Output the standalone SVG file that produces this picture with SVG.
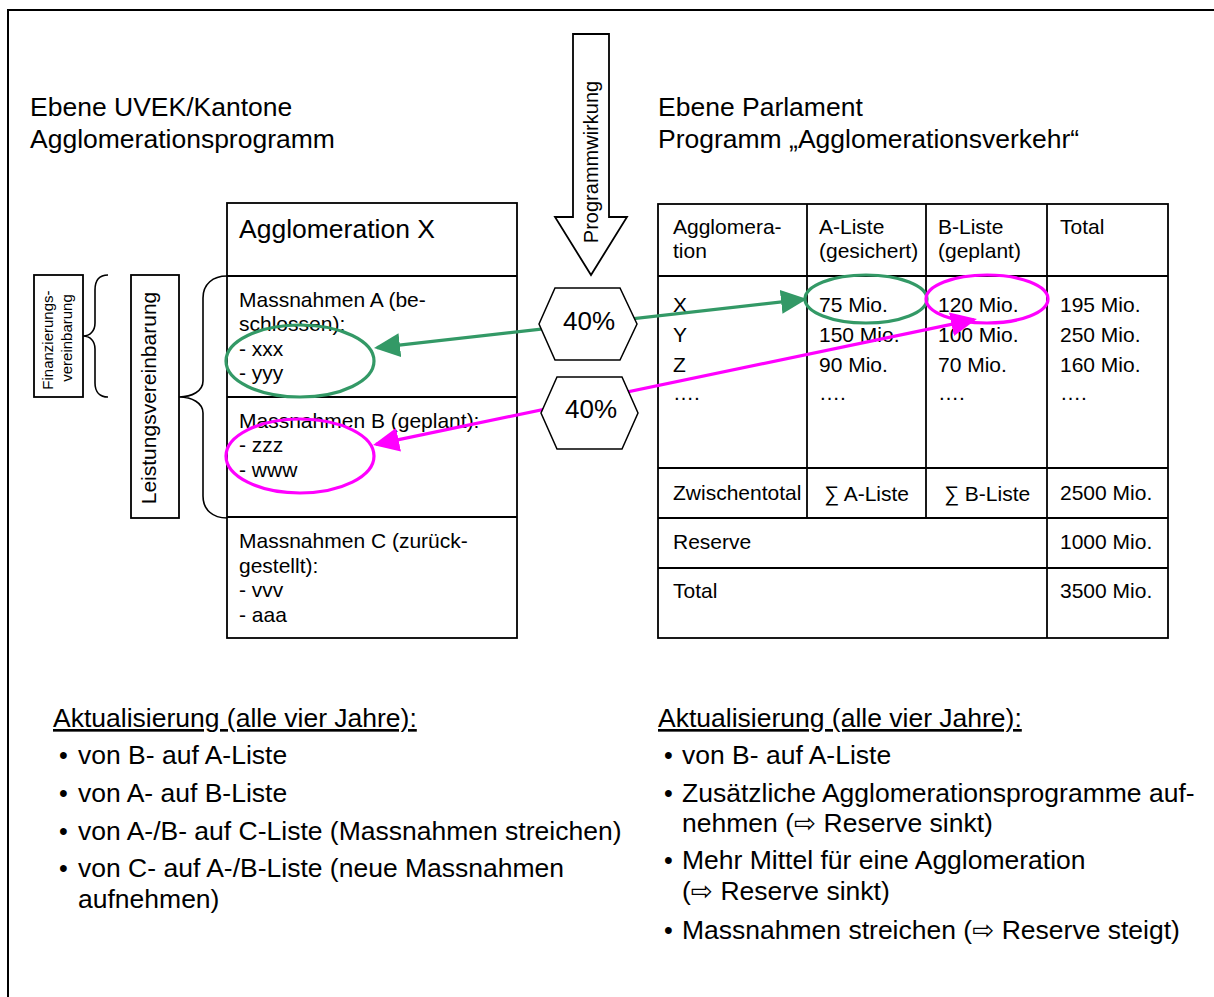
<svg xmlns="http://www.w3.org/2000/svg" width="1214" height="997" viewBox="0 0 1214 997">
  <style>
    text { font-family: "Liberation Sans", Arial, "DejaVu Sans", sans-serif; fill: #000; }
    .big { font-size: 26.5px; }
    .med { font-size: 21px; }
    .small { font-size: 15px; }
    .box { fill: #fff; stroke: #000; stroke-width: 1.8; }
    .rule { fill: none; stroke: #000; stroke-width: 1.8; }
    .brace { fill: none; stroke: #000; stroke-width: 1.6; }
    .green { fill: none; stroke: #339966; stroke-width: 3.2; }
    .magenta { fill: none; stroke: #ff00ff; stroke-width: 3.2; }
    .hex { fill: #fff; stroke: #000; stroke-width: 1.5; }
    .bul { font-size: 25px; }
  </style>
  <defs>
    <marker id="arrowGreen" markerUnits="userSpaceOnUse" markerWidth="26" markerHeight="24" refX="23" refY="12" orient="auto-start-reverse">
      <path d="M0,0 L26,12 L0,24 z" fill="#339966"/>
    </marker>
    <marker id="arrowMagenta" markerUnits="userSpaceOnUse" markerWidth="26" markerHeight="24" refX="23" refY="12" orient="auto-start-reverse">
      <path d="M0,0 L26,12 L0,24 z" fill="#ff00ff"/>
    </marker>
  </defs>

  <rect width="1214" height="997" fill="#fff"/>
  <!-- outer frame (open to the right and bottom) -->
  <path d="M8,1000 V10 H1220" fill="none" stroke="#000" stroke-width="2"/>

  <!-- level headings -->
  <g id="heading-left">
    <text class="big" x="30" y="116">Ebene UVEK/Kantone</text>
    <text class="big" x="30" y="148">Agglomerationsprogramm</text>
  </g>
  <g id="heading-right">
    <text class="big" x="658" y="116">Ebene Parlament</text>
    <text class="big" x="658" y="148">Programm „Agglomerationsverkehr“</text>
  </g>

  <!-- effect arrow -->
  <g id="programmwirkung">
    <polygon class="box" stroke-width="1.5" points="573,34 609,34 609,217 627,217 591,275 555,217 573,217"/>
    <text transform="translate(598,162) rotate(-90)" text-anchor="middle" font-size="20">Programmwirkung</text>
  </g>

  <!-- financing agreement label and brace -->
  <g id="finanzierungsvereinbarung">
    <rect class="box" x="34" y="275" width="49" height="122"/>
    <text class="small" transform="translate(53,338) rotate(-90)" text-anchor="middle">
      <tspan x="0" y="0">Finanzierungs-</tspan>
      <tspan x="0" y="19">vereinbarung</tspan>
    </text>
    <path class="brace" d="M108,275 C100,275 95,280 95,290 L95,323 C95,331 90,336 83,336 C90,336 95,341 95,349 L95,383 C95,392 100,397 108,397"/>
  </g>

  <!-- service agreement label and brace -->
  <g id="leistungsvereinbarung">
    <rect class="box" x="131" y="275" width="48" height="243"/>
    <text class="med" transform="translate(156,398) rotate(-90)" text-anchor="middle">Leistungsvereinbarung</text>
    <path class="brace" d="M227,276 C213,276 203,284 203,298 L203,381 C203,391 192,397 179,397 C192,397 203,403 203,413 L203,496 C203,510 213,518 227,518"/>
  </g>

  <!-- agglomeration programme box -->
  <g id="agglomeration-x">
    <rect class="box" x="227" y="203" width="290" height="435"/>
    <line class="rule" x1="227" y1="276" x2="517" y2="276"/>
    <line class="rule" x1="227" y1="397" x2="517" y2="397"/>
    <line class="rule" x1="227" y1="517" x2="517" y2="517"/>
    <text class="big" x="239" y="238">Agglomeration X</text>
    <text class="med" x="239" y="307">Massnahmen A (be-</text>
    <text class="med" x="239" y="331">schlossen):</text>
    <text class="med" x="239" y="356">- xxx</text>
    <text class="med" x="239" y="380">- yyy</text>
    <text class="med" x="239" y="428">Massnahmen B (geplant):</text>
    <text class="med" x="239" y="452">- zzz</text>
    <text class="med" x="239" y="477">- www</text>
    <text class="med" x="239" y="548">Massnahmen C (zurück-</text>
    <text class="med" x="239" y="573">gestellt):</text>
    <text class="med" x="239" y="597">- vvv</text>
    <text class="med" x="239" y="622">- aaa</text>
  </g>

  <!-- parliament programme table -->
  <g id="programm-tabelle">
    <rect class="box" x="658" y="204" width="510" height="434"/>
    <line class="rule" x1="658" y1="276" x2="1168" y2="276"/>
    <line class="rule" x1="658" y1="468" x2="1168" y2="468"/>
    <line class="rule" x1="658" y1="518" x2="1168" y2="518"/>
    <line class="rule" x1="658" y1="568" x2="1168" y2="568"/>
    <line class="rule" x1="807" y1="204" x2="807" y2="518"/>
    <line class="rule" x1="926" y1="204" x2="926" y2="518"/>
    <line class="rule" x1="1047" y1="204" x2="1047" y2="638"/>

    <text class="med" x="673" y="234">Agglomera-</text>
    <text class="med" x="673" y="258">tion</text>
    <text class="med" x="819" y="234">A-Liste</text>
    <text class="med" x="819" y="258">(gesichert)</text>
    <text class="med" x="938" y="234">B-Liste</text>
    <text class="med" x="938" y="258">(geplant)</text>
    <text class="med" x="1060" y="234">Total</text>

    <text class="med" x="673" y="312">X</text>
    <text class="med" x="673" y="342">Y</text>
    <text class="med" x="673" y="372">Z</text>
    <text class="med" x="673" y="400">….</text>
    <text class="med" x="819" y="312">75 Mio.</text>
    <text class="med" x="819" y="342">150 Mio.</text>
    <text class="med" x="819" y="372">90 Mio.</text>
    <text class="med" x="819" y="400">….</text>
    <text class="med" x="938" y="312">120 Mio.</text>
    <text class="med" x="938" y="342">100 Mio.</text>
    <text class="med" x="938" y="372">70 Mio.</text>
    <text class="med" x="938" y="400">….</text>
    <text class="med" x="1060" y="312">195 Mio.</text>
    <text class="med" x="1060" y="342">250 Mio.</text>
    <text class="med" x="1060" y="372">160 Mio.</text>
    <text class="med" x="1060" y="400">….</text>

    <text class="med" x="673" y="500">Zwischentotal</text>
    <text class="med" x="824" y="501">∑ A-Liste</text>
    <text class="med" x="944" y="501">∑ B-Liste</text>
    <text class="med" x="1060" y="500">2500 Mio.</text>
    <text class="med" x="673" y="549">Reserve</text>
    <text class="med" x="1060" y="549">1000 Mio.</text>
    <text class="med" x="673" y="598">Total</text>
    <text class="med" x="1060" y="598">3500 Mio.</text>
  </g>

  <!-- links between measures and list amounts -->
  <g id="connectors">
    <ellipse class="green" cx="300" cy="361" rx="74" ry="36"/>
    <ellipse class="green" cx="866" cy="299" rx="61" ry="24"/>
    <ellipse class="magenta" cx="300" cy="456" rx="74" ry="37"/>
    <ellipse class="magenta" cx="987" cy="299" rx="61" ry="24"/>
    <path class="green" d="M377,347.7 L804,299.3" marker-start="url(#arrowGreen)" marker-end="url(#arrowGreen)"/>
    <path class="magenta" d="M376,444.4 L974,319.6" marker-start="url(#arrowMagenta)" marker-end="url(#arrowMagenta)"/>
  </g>

  <!-- share hexagons -->
  <g id="anteil-a">
    <polygon class="hex" points="539,324 555,288 620,288 637,324 620,360 555,360"/>
    <text x="589" y="330" text-anchor="middle" font-size="26">40%</text>
  </g>
  <g id="anteil-b">
    <polygon class="hex" points="541,413 557,377 622,377 638,413 622,449 557,449"/>
    <text x="591" y="418" text-anchor="middle" font-size="26">40%</text>
  </g>

  <!-- update rules -->
  <g id="aktualisierung-links">
    <text class="big" x="53" y="727" text-decoration="underline">Aktualisierung (alle vier Jahre):</text>
    <text class="bul" x="59" y="764">•</text>
    <text class="big" x="78" y="764">von B- auf A-Liste</text>
    <text class="bul" x="59" y="802">•</text>
    <text class="big" x="78" y="802">von A- auf B-Liste</text>
    <text class="bul" x="59" y="840">•</text>
    <text class="big" x="78" y="840">von A-/B- auf C-Liste (Massnahmen streichen)</text>
    <text class="bul" x="59" y="877">•</text>
    <text class="big" x="78" y="877">von C- auf A-/B-Liste (neue Massnahmen</text>
    <text class="big" x="78" y="908">aufnehmen)</text>
  </g>
  <g id="aktualisierung-rechts">
    <text class="big" x="658" y="727" text-decoration="underline">Aktualisierung (alle vier Jahre):</text>
    <text class="bul" x="664" y="764">•</text>
    <text class="big" x="682" y="764">von B- auf A-Liste</text>
    <text class="bul" x="664" y="802">•</text>
    <text class="big" x="682" y="802">Zusätzliche Agglomerationsprogramme auf-</text>
    <text class="big" x="682" y="832">nehmen (⇨ Reserve sinkt)</text>
    <text class="bul" x="664" y="869">•</text>
    <text class="big" x="682" y="869">Mehr Mittel für eine Agglomeration</text>
    <text class="big" x="682" y="900">(⇨ Reserve sinkt)</text>
    <text class="bul" x="664" y="939">•</text>
    <text class="big" x="682" y="939">Massnahmen streichen (⇨ Reserve steigt)</text>
  </g>
</svg>
